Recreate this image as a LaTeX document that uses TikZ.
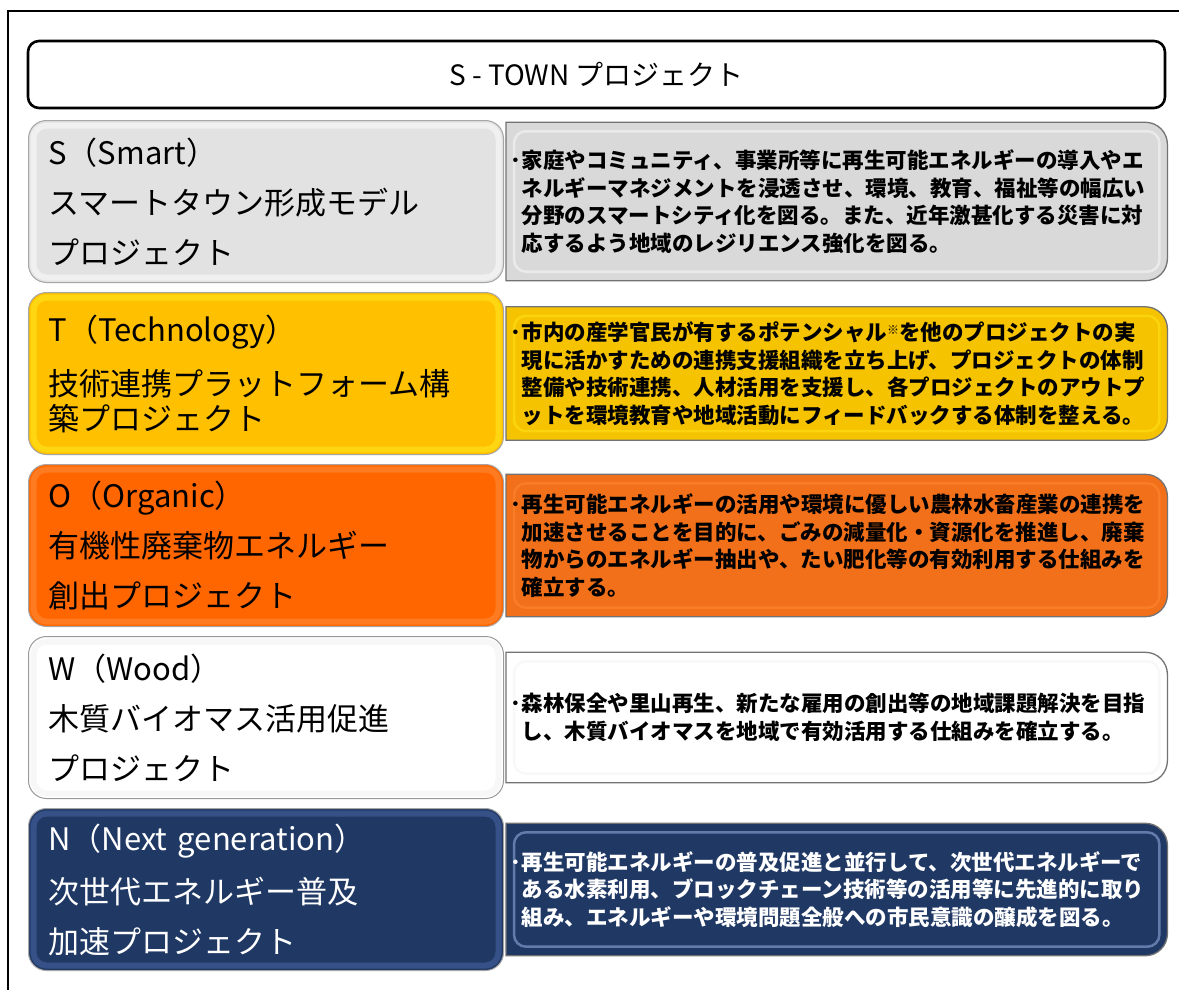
\documentclass[tikz,border=0pt]{standalone}
\usepackage{fontspec}
\setmainfont{Noto Sans CJK JP}
\usetikzlibrary{positioning, backgrounds}

\definecolor{sgray}{HTML}{E2E2E2}
\definecolor{sgrayrim}{HTML}{F6F6F6}
\definecolor{sgrayR}{HTML}{D9D9D9}
\definecolor{tgold}{HTML}{FFC000}
\definecolor{tgoldrim}{HTML}{FFE01A}
\definecolor{tgoldR}{HTML}{F5C300}
\definecolor{oorange}{HTML}{FF6600}
\definecolor{oorangerim}{HTML}{FF8430}
\definecolor{oorangeR}{HTML}{F2701A}
\definecolor{wwhite}{HTML}{FFFFFF}
\definecolor{wwhiterim}{HTML}{F4F4F4}
\definecolor{nnavy}{HTML}{203864}
\definecolor{nnavyrim}{HTML}{3F5D96}
\definecolor{nnavyhl}{HTML}{8EA9DB}

\begin{document}
\begin{tikzpicture}[
    x=1pt, y=-1pt,
    node distance=9pt,
    every node/.style={inner sep=0pt},
    title/.style={draw, line width=2.6pt, rounded corners=11pt,
      minimum width=1137pt, minimum height=67pt,
      font=\fontsize{28}{32}\selectfont},
    lbox/.style 2 args={draw=black!35, line width=1pt, rounded corners=18pt,
      minimum width=475pt, minimum height=162pt, text width=435pt,
      align=left, fill=#1, font=\fontsize{31}{50}\selectfont,
      path picture={\draw[#2, line width=6pt, opacity=.7, rounded corners=13pt]
        ([shift={(5pt,-5pt)}]path picture bounding box.north west) rectangle
        ([shift={(-5pt,5pt)}]path picture bounding box.south east);}},
    rbox/.style={minimum width=661pt, text width=630pt, align=left,
      font=\bfseries\fontsize{21.5}{27.6}\selectfont},
    rframe/.style 2 args={draw=black!55, line width=1.3pt, fill=#1,
      path picture={\draw[#2, line width=2.5pt, opacity=.6, rounded corners=12pt]
        ([shift={(8pt,-9pt)}]path picture bounding box.north west) rectangle
        ([shift={(-8pt,9pt)}]path picture bounding box.south east);}},
]
  \useasboundingbox (0,0) rectangle (1179,990);

  % outer frame
  \draw[line width=2.6pt] (8,990) -- (8,11) -- (1179,11);

  \node[title] (title) at (596.5,74.5) {S - TOWN プロジェクト};

  % left column
  \node[lbox={sgray}{sgrayrim}, anchor=north west] (sL) at (28,120)
    {S（Smart）\\スマートタウン形成モデル\\プロジェクト};
  \node[lbox={tgold}{tgoldrim}, below=of sL] (tL)
    {T（Technology）\\[4pt]技術連携プラットフォーム構\\[-15pt]築プロジェクト};
  \node[lbox={oorange}{oorangerim}, below=of tL] (oL)
    {O（Organic）\\有機性廃棄物エネルギー\\創出プロジェクト};
  \node[lbox={wwhite}{wwhiterim}, draw=black!40, below=of oL] (wL)
    {W（Wood）\\木質バイオマス活用促進\\プロジェクト};
  \node[lbox={nnavy}{nnavyrim}, text=white, below=of wL] (nL)
    {N（Next generation）\\[3pt]次世代エネルギー普及\\加速プロジェクト};

  % right column
  \node[rbox, minimum height=158pt, right=2pt of sL] (sR)
    {\llap{･}家庭やコミュニティ、事業所等に再生可能エネルギーの導入やエ\\
     ネルギーマネジメントを浸透させ、環境、教育、福祉等の幅広い\\
     分野のスマートシティ化を図る。また、近年激甚化する災害に対\\
     応するよう地域のレジリエンス強化を図る。};
  \node[rbox, minimum height=133pt, right=2pt of tL] (tR)
    {\llap{･}市内の産学官民が有するポテンシャル{\fontsize{12}{12}\selectfont\raisebox{6pt}{※}}を他のプロジェクトの実\\
     現に活かすための連携支援組織を立ち上げ、プロジェクトの体制\\
     整備や技術連携、人材活用を支援し、各プロジェクトのアウトプ\\
     ットを環境教育や地域活動にフィードバックする体制を整える。};
  \node[rbox, minimum height=142pt, right=2pt of oL] (oR)
    {\llap{･}再生可能エネルギーの活用や環境に優しい農林水畜産業の連携を\\
     加速させることを目的に、ごみの減量化・資源化を推進し、廃棄\\
     物からのエネルギー抽出や、たい肥化等の有効利用する仕組みを\\
     確立する。};
  \node[rbox, minimum height=130pt, right=2pt of wL] (wR)
    {\llap{･}森林保全や里山再生、新たな雇用の創出等の地域課題解決を目指\\
     し、木質バイオマスを地域で有効活用する仕組みを確立する。};
  \node[rbox, minimum height=132pt, text=white, right=2pt of nL] (nR)
    {\llap{･}再生可能エネルギーの普及促進と並行して、次世代エネルギーで\\
     ある水素利用、ブロックチェーン技術等の活用等に先進的に取り\\
     組み、エネルギーや環境問題全般への市民意識の醸成を図る。};

  % box shapes behind the right texts
  \begin{scope}[on background layer]
    \fill[white] (0,0) rectangle (1179,990);
    \draw[rframe={sgrayR}{sgrayrim}] (sR.south west) -- (sR.north west)
      -- ([xshift=-22pt]sR.north east) arc[start angle=90, end angle=0, radius=22pt]
      -- ([yshift=22pt]sR.south east) arc[start angle=0, end angle=-90, radius=22pt] -- cycle;
    \draw[rframe={tgoldR}{tgoldrim}] (tR.south west) -- (tR.north west)
      -- ([xshift=-22pt]tR.north east) arc[start angle=90, end angle=0, radius=22pt]
      -- ([yshift=22pt]tR.south east) arc[start angle=0, end angle=-90, radius=22pt] -- cycle;
    \draw[rframe={oorangeR}{oorangerim}] (oR.south west) -- (oR.north west)
      -- ([xshift=-22pt]oR.north east) arc[start angle=90, end angle=0, radius=22pt]
      -- ([yshift=22pt]oR.south east) arc[start angle=0, end angle=-90, radius=22pt] -- cycle;
    \draw[rframe={wwhite}{wwhiterim}] (wR.south west) -- (wR.north west)
      -- ([xshift=-22pt]wR.north east) arc[start angle=90, end angle=0, radius=22pt]
      -- ([yshift=22pt]wR.south east) arc[start angle=0, end angle=-90, radius=22pt] -- cycle;
    \draw[rframe={nnavy}{nnavyhl}] (nR.south west) -- (nR.north west)
      -- ([xshift=-22pt]nR.north east) arc[start angle=90, end angle=0, radius=22pt]
      -- ([yshift=22pt]nR.south east) arc[start angle=0, end angle=-90, radius=22pt] -- cycle;
  \end{scope}
\end{tikzpicture}
\end{document}
